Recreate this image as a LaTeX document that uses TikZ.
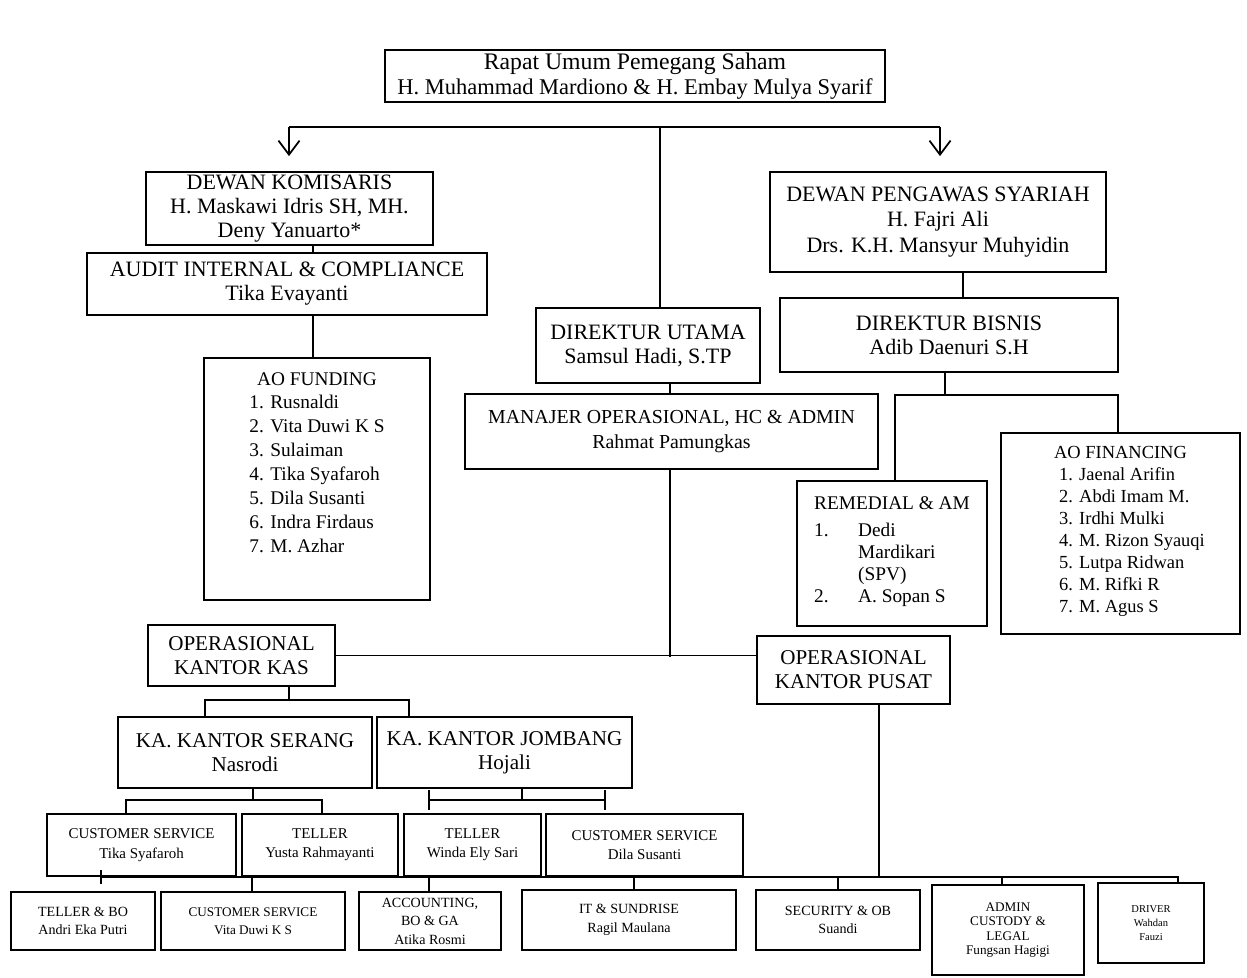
\documentclass[tikz,border=0pt]{standalone}
\usepackage{fontspec}
\setmainfont{Liberation Serif}
\usetikzlibrary{arrows.meta}
\usetikzlibrary{calc}

\tikzset{
	kotak/.style={draw, line width=1pt, align=center, inner sep=1pt, font=\fontsize{12.5}{13.6}\selectfont},
	ukuran/.style 2 args={minimum width=#1*0.02cm, minimum height=#2*0.02cm},
	garis/.style={line width=1pt},
	panah/.style={line width=1pt, -{Straight Barb[length=8pt,width=12pt]}},
	tengahan/.style={font=\fontsize{8.5}{11}\selectfont},
	bawahan/.style={font=\fontsize{8}{10.5}\selectfont}
}

\begin{document}
\begin{tikzpicture}[x=0.02cm, y=-0.02cm]
		\useasboundingbox (0,0) rectangle (1247,977);

		\node[kotak, ukuran={500}{52}, font=\fontsize{12.8}{14.5}\selectfont] (rups) at (635,76) {{\fontsize{13.5}{15}\selectfont Rapat Umum Pemegang Saham}\\H. Muhammad Mardiono \& H. Embay Mulya Syarif};
		\node[kotak, ukuran={287}{73}] (dk) at (289.5,208.5) {DEWAN KOMISARIS\\H. Maskawi Idris SH, MH.\\Deny Yanuarto*};
		\node[kotak, ukuran={336}{100}, font=\fontsize{12.5}{14.7}\selectfont] (dps) at (938,222) {DEWAN PENGAWAS SYARIAH\\H. Fajri Ali\\Drs. K.H. Mansyur Muhyidin};
		\node[kotak, ukuran={400}{62}] (audit) at (287,284) {AUDIT INTERNAL \& COMPLIANCE\\Tika Evayanti};
		\node[kotak, ukuran={224}{75}] (du) at (648,345.5) {DIREKTUR UTAMA\\Samsul Hadi, S.TP};
		\node[kotak, ukuran={338}{74}] (db) at (949,335) {DIREKTUR BISNIS\\Adib Daenuri S.H};
		\node[kotak, ukuran={413}{75}, font=\fontsize{11.3}{14}\selectfont] (manajer) at (671.5,431.5) {MANAJER OPERASIONAL, HC \& ADMIN\\Rahmat Pamungkas};

		\node[kotak, ukuran={226}{242}, inner ysep=0pt, text height=0.54cm, text depth=4.3cm, font=\fontsize{11}{13.6}\selectfont] (aof) at (317,479) {\begin{tabular}[t]{@{}l@{}}\multicolumn{1}{@{}c@{}}{AO FUNDING}\\1. Rusnaldi\\2. Vita Duwi K S\\3. Sulaiman\\4. Tika Syafaroh\\5. Dila Susanti\\6. Indra Firdaus\\7. M. Azhar\end{tabular}};
		\node[kotak, ukuran={239}{201}, inner ysep=0pt, text height=0.5cm, text depth=3.52cm, font=\fontsize{10.5}{12.6}\selectfont] (aofin) at (1120.5,533.5) {\begin{tabular}[t]{@{\hspace{0.46cm}}l@{}}\multicolumn{1}{@{}c@{}}{AO FINANCING}\\1. Jaenal Arifin\\2. Abdi Imam M.\\3. Irdhi Mulki\\4. M. Rizon Syauqi\\5. Lutpa Ridwan\\6. M. Rifki R\\7. M. Agus S\end{tabular}};
		\node[kotak, ukuran={190}{145}, inner ysep=0pt, text height=0.56cm, text depth=2.34cm, font=\fontsize{11}{12.5}\selectfont] (remedial) at (892,553.5) {\begin{tabular}[t]{@{}p{0.88cm}@{}l@{}}\multicolumn{2}{@{}l@{}}{REMEDIAL \& AM}\\[3pt]1. & Dedi\\ & Mardikari\\ & (SPV)\\2. & A. Sopan S\end{tabular}};

		\node[kotak, ukuran={187}{61}, font=\fontsize{12}{13.6}\selectfont] (opkas) at (241.5,655.5) {OPERASIONAL\\KANTOR KAS};
		\node[kotak, ukuran={193}{68}, font=\fontsize{12}{13.6}\selectfont] (oppusat) at (853.5,670) {OPERASIONAL\\KANTOR PUSAT};
		\node[kotak, ukuran={254}{71}, font=\fontsize{12}{13.6}\selectfont] (ks) at (245,752.5) {KA. KANTOR SERANG\\Nasrodi};
		\node[kotak, ukuran={255}{71}, font=\fontsize{12}{13.6}\selectfont] (kj) at (504.5,752.5) {KA. KANTOR JOMBANG\\Hojali};

		\node[kotak, tengahan, ukuran={189}{62}] (tika) at (141.5,845) {CUSTOMER SERVICE\\Tika Syafaroh};
		\node[kotak, tengahan, ukuran={156}{62}] (yusta) at (320,845) {TELLER\\Yusta Rahmayanti};
		\node[kotak, tengahan, ukuran={137}{62}] (winda) at (472.5,845) {TELLER\\Winda Ely Sari};
		\node[kotak, tengahan, ukuran={197}{62}] (dila) at (644.5,845) {CUSTOMER SERVICE\\Dila Susanti};

		\node[kotak, bawahan, ukuran={144}{58}] (tbo) at (83,921) {TELLER \& BO\\Andri Eka Putri};
		\node[kotak, bawahan, ukuran={184}{58}, font=\fontsize{7.5}{10.5}\selectfont] (vita) at (253,921) {CUSTOMER SERVICE\\Vita Duwi K S};
		\node[kotak, bawahan, ukuran={142}{58}] (acc) at (430,921) {ACCOUNTING,\\BO \& GA\\Atika Rosmi};
		\node[kotak, bawahan, ukuran={214}{60}] (it) at (629,920) {IT \& SUNDRISE\\Ragil Maulana};
		\node[kotak, bawahan, ukuran={164}{60}] (sec) at (838,920) {SECURITY \& OB\\Suandi};
		\node[kotak, ukuran={152}{90}, font=\fontsize{7.5}{8.3}\selectfont] (admin) at (1008,930) {ADMIN\\CUSTODY \&\\LEGAL\\Fungsan Hagigi};
		\node[kotak, ukuran={106}{80}, font=\fontsize{6}{8}\selectfont] (driver) at (1151,923) {DRIVER\\Wahdan\\Fauzi};

		\coordinate (kiri) at (289,127);
		\coordinate (kanan) at (940,127);
		\coordinate (sumbu) at (660,127);
		\draw[garis] (kiri) -- (kanan);
		\draw[garis] (sumbu) -- (du.north -| sumbu);
		\draw[panah] (kiri) -- ($(dk.north -| kiri)+(0,-15)$);
		\draw[panah] (kanan) -- ($(dps.north -| kanan)+(0,-15)$);

		\coordinate (sk) at (313,0);
		\draw[garis] (dk.south -| sk) -- (audit.north -| sk);
		\draw[garis] (audit.south -| sk) -- (aof.north -| sk);
		\coordinate (sdb) at (963,0);
		\draw[garis] (dps.south -| sdb) -- (db.north -| sdb);

		\coordinate (sbisnis) at (945,395);
		\coordinate (bkiri) at (895,395);
		\coordinate (bkanan) at (1118,395);
		\draw[garis] (db.south -| sbisnis) -- (sbisnis);
		\draw[garis] (remedial.north -| bkiri) -- (bkiri) -- (bkanan) -- (aofin.north -| bkanan);

		\coordinate (stengah) at (670,657);
		\draw[garis] (du.south -| stengah) -- (manajer.north -| stengah);
		\draw[garis] (manajer.south -| stengah) -- (stengah);
		\draw[garis] (opkas.east) -- (opkas.east -| oppusat.west);

		\coordinate (skas) at (289,700);
		\coordinate (kk1) at (205,700);
		\coordinate (kk2) at (409,700);
		\draw[garis] (opkas.south -| skas) -- (skas);
		\draw[garis] (ks.north -| kk1) -- (kk1) -- (kk2) -- (kj.north -| kk2);

		\coordinate (ss) at (253,800);
		\coordinate (ss1) at (126,800);
		\coordinate (ss2) at (322,800);
		\draw[garis] (ks.south -| ss) -- (ss);
		\draw[garis] (tika.north -| ss1) -- (ss1) -- (ss2) -- (yusta.north -| ss2);
		\coordinate (sj) at (522,800);
		\coordinate (sj1) at (428,800);
		\coordinate (sj2) at (606,800);
		\draw[garis] (kj.south -| sj) -- (sj);
		\draw[garis, {Bar[width=11pt]}-{Bar[width=11pt]}] (sj1) -- (sj2);

		\coordinate (bb) at (879,877);
		\coordinate (bb1) at (100,877);
		\coordinate (bb2) at (1178,877);
		\draw[garis] (oppusat.south -| bb) -- (bb);
		\draw[garis, {Bar[width=8pt]}-] (bb1) -- (bb2) -- (driver.north -| bb2);
		\foreach \n/\x in {vita/252, acc/429, it/634, sec/838, admin/1002}
			\draw[garis] (\x,877) -- (\n.north -| \x,877);
	\end{tikzpicture}
\end{document}
